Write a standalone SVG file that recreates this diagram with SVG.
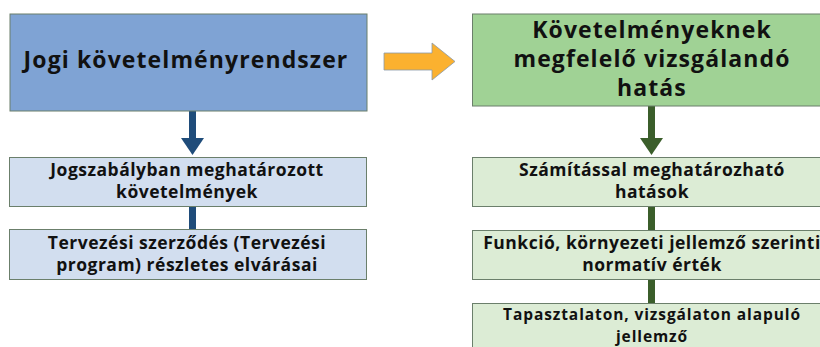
<svg xmlns="http://www.w3.org/2000/svg" width="820" height="347" viewBox="0 0 820 347">
<style>
text{font-family:"Open Sans","Liberation Sans",sans-serif;font-weight:bold;fill:#111;text-anchor:middle}
.big{font-size:23px;letter-spacing:1.1px}
.sm{font-size:17.5px;letter-spacing:0.5px}
.sm2{font-size:15.5px;letter-spacing:0.9px}
.bb{fill:#7fa3d4;stroke:#6b7f6b;stroke-width:1}
.bs{fill:#d2deef;stroke:#6b7f6b;stroke-width:1}
.gb{fill:#a0d295;stroke:#6b7f6b;stroke-width:1}
.gs{fill:#dcecd5;stroke:#6b7f6b;stroke-width:1}
.blue{fill:#1f4c7a}
.green{fill:#3b5e2b}
</style>
<rect width="820" height="347" fill="#fff"/>
<g id="connectors">
<rect class="blue" x="189" y="111" width="7" height="28"/>
<polygon class="blue" points="181,138 204,138 192.5,155"/>
<rect class="blue" x="189" y="207" width="7" height="22"/>
<rect class="green" x="648" y="106" width="7" height="33"/>
<polygon class="green" points="640,138 663,138 651.5,155"/>
<rect class="green" x="648" y="206" width="7" height="24"/>
<rect class="green" x="648" y="279" width="7" height="24"/>
<polygon points="384,53 432,53 432,43 455,61.5 432,80 432,70 384,70" fill="#fbb12f" stroke="#8a99a8" stroke-width="0.8"/>
</g>
<g id="n1">
<rect class="bb" x="10" y="14" width="357" height="97"/>
<text class="big" x="186" y="68">Jogi követelményrendszer</text>
</g>
<g id="n2">
<rect class="bs" x="9.5" y="157.5" width="357" height="49"/>
<text class="sm" x="187" y="176">Jogszabályban meghatározott</text>
<text class="sm" x="187" y="198">követelmények</text>
</g>
<g id="n3">
<rect class="bs" x="9.5" y="229.5" width="357" height="50"/>
<text class="sm" x="187" y="249">Tervezési szerződés (Tervezési</text>
<text class="sm" x="187" y="271">program) részletes elvárásai</text>
</g>
<g id="n4">
<rect class="gb" x="472.5" y="14" width="360" height="92"/>
<text class="big" x="652" y="38">Követelményeknek</text>
<text class="big" x="652" y="67">megfelelő vizsgálandó</text>
<text class="big" x="652" y="96">hatás</text>
</g>
<g id="n5">
<rect class="gs" x="472.5" y="157.5" width="360" height="49"/>
<text class="sm" x="652" y="176">Számítással meghatározható</text>
<text class="sm" x="652" y="198">hatások</text>
</g>
<g id="n6">
<rect class="gs" x="472.5" y="230.5" width="360" height="49"/>
<text class="sm" x="652" y="249">Funkció, környezeti jellemző szerinti</text>
<text class="sm" x="652" y="271">normatív érték</text>
</g>
<g id="n7">
<rect class="gs" x="472.5" y="303.5" width="360" height="50"/>
<text class="sm2" x="652" y="320">Tapasztalaton, vizsgálaton alapuló</text>
<text class="sm2" x="652" y="342">jellemző</text>
</g>
</svg>
